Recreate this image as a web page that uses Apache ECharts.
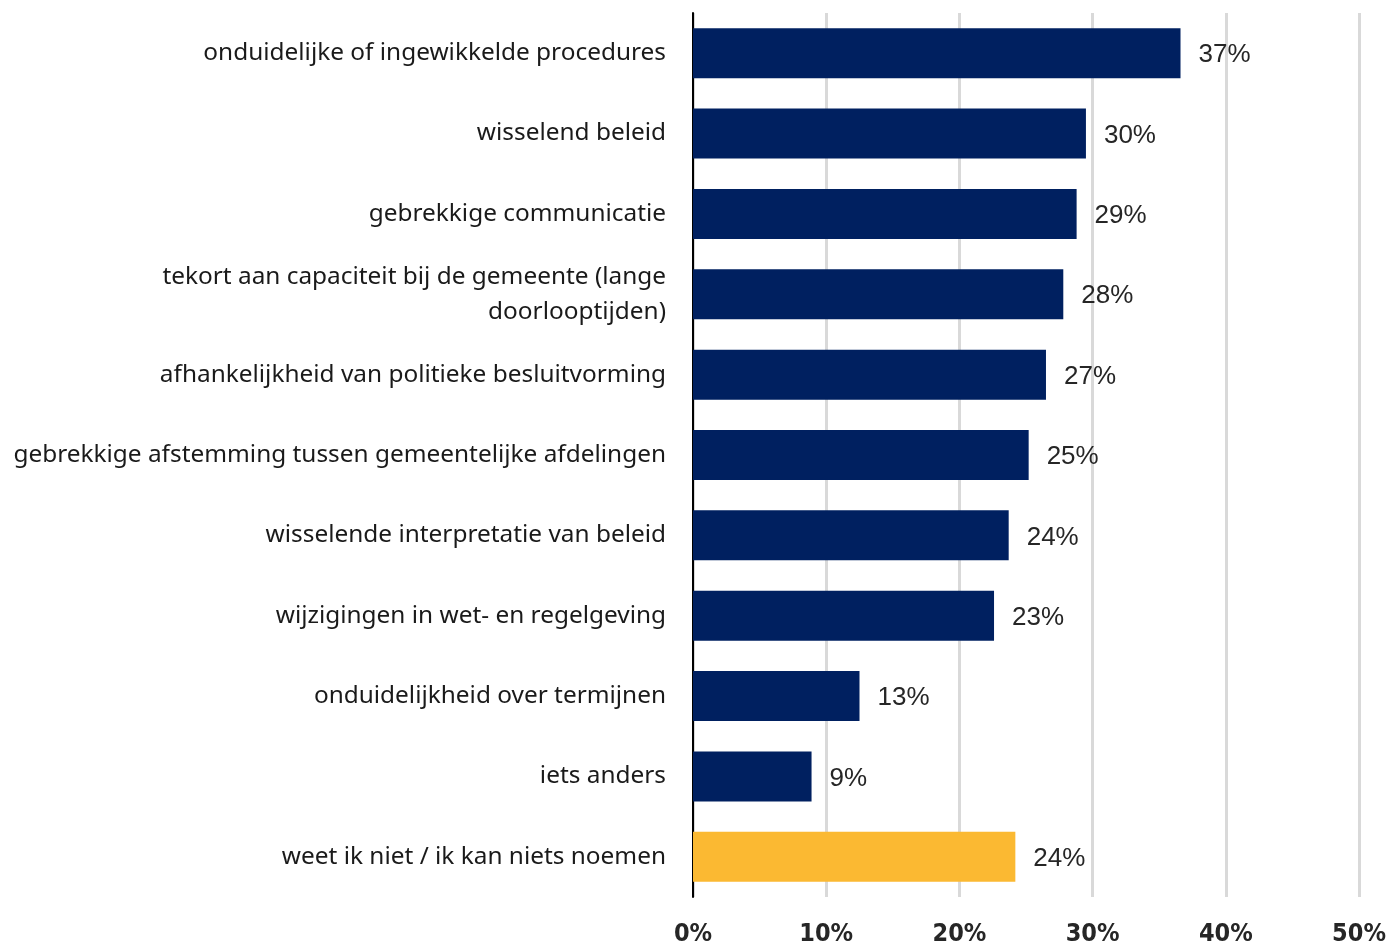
<!DOCTYPE html>
<html>
<head>
<meta charset="utf-8">
<script src="https://cdn.jsdelivr.net/npm/echarts@6/dist/echarts.min.js"></script>
<style>html,body{margin:0;padding:0;background:#fff}#c{width:1388px;height:945px}</style>
</head>
<body>
<div id="c"></div>
<script>
const categories = [
  "onduidelijke of ingewikkelde procedures",
  "wisselend beleid",
  "gebrekkige communicatie",
  "tekort aan capaciteit bij de gemeente (lange\ndoorlooptijden)",
  "afhankelijkheid van politieke besluitvorming",
  "gebrekkige afstemming tussen gemeentelijke afdelingen",
  "wisselende interpretatie van beleid",
  "wijzigingen in wet- en regelgeving",
  "onduidelijkheid over termijnen",
  "iets anders",
  "weet ik niet / ik kan niets noemen"
];
const values = [36.6, 29.5, 28.8, 27.8, 26.5, 25.2, 23.7, 22.6, 12.5, 8.9, 24.2];
const valueLabels = ["37%", "30%", "29%", "28%", "27%", "25%", "24%", "23%", "13%", "9%", "24%"];
const highlightIndex = 10;
const xTicks = [0, 10, 20, 30, 40, 50];

const chart = echarts.init(document.getElementById('c'));
chart.setOption({
  animation: false,
  grid: { left: 693, right: 29, top: 13, bottom: 48, containLabel: false, outerBoundsMode: 'none' },
  xAxis: {
    type: 'value', min: xTicks[0], max: xTicks[xTicks.length - 1], interval: 10,
    axisLine: { show: false }, axisTick: { show: false },
    splitLine: { show: true, lineStyle: { color: '#d9d9d9', width: 3 } },
    axisLabel: {
      formatter: v => v + '%', margin: 25,
      fontFamily: 'DejaVu Sans Condensed', fontWeight: 'bold', fontSize: 25, color: '#262626'
    }
  },
  yAxis: {
    type: 'category', data: categories, inverse: true,
    axisLine: { show: true, lineStyle: { color: '#000', width: 2 } },
    axisTick: { show: false },
    axisLabel: {
      margin: 27, fontFamily: 'Noto Sans', fontSize: 24.4, color: '#1a1a1a',
      lineHeight: 35, align: 'right'
    }
  },
  series: [{
    type: 'bar', barWidth: 50,
    data: values.map((v, i) => ({
      value: v,
      itemStyle: { color: i === highlightIndex ? '#FBB932' : '#002060' },
      label: { formatter: valueLabels[i] }
    })),
    label: {
      show: true, position: 'right', distance: 18, offset: [0, 2],
      fontFamily: 'Liberation Sans', fontSize: 26, color: '#262626'
    }
  }]
});
</script>
</body>
</html>
